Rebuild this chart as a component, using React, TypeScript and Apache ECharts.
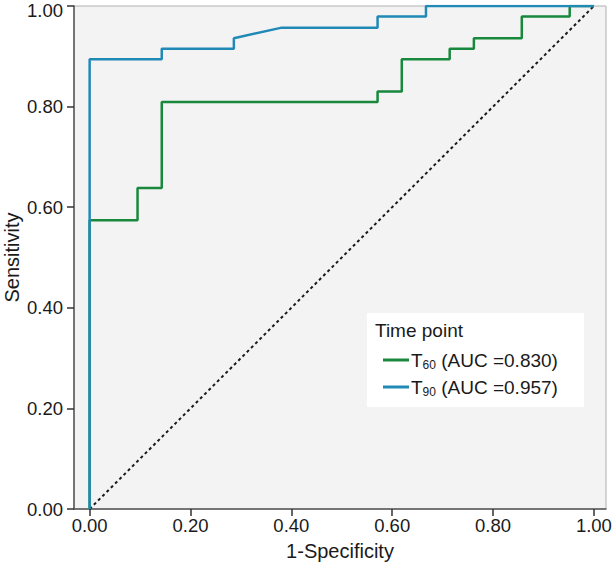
import React, { useEffect, useRef } from "react";
import * as echarts from "echarts";

const xTicks = [0, 0.2, 0.4, 0.6, 0.8, 1.0];

// T60 ROC curve (1-specificity, sensitivity)
const t60X = [0, 0, 0.095, 0.095, 0.143, 0.143, 0.571, 0.571, 0.619, 0.619, 0.714, 0.714, 0.762, 0.762, 0.857, 0.857, 0.952, 0.952, 1.0];
const t60Y = [0, 0.574, 0.574, 0.638, 0.638, 0.809, 0.809, 0.830, 0.830, 0.894, 0.894, 0.915, 0.915, 0.936, 0.936, 0.979, 0.979, 1.0, 1.0];

// T90 ROC curve
const t90X = [0, 0, 0.143, 0.143, 0.286, 0.286, 0.381, 0.571, 0.571, 0.667, 0.667, 1.0];
const t90Y = [0, 0.894, 0.894, 0.915, 0.915, 0.936, 0.957, 0.957, 0.979, 0.979, 1.0, 1.0];

const refX = [0, 1];
const refY = [0, 1];

const legendTitle = "Time point";
const legendItems = [
  { sub: "60", auc: "0.830", color: "#18883c" },
  { sub: "90", auc: "0.957", color: "#2189b6" },
];

const FONT = "Liberation Sans, Arial, Helvetica, sans-serif";

export default function App() {
  const ref = useRef<HTMLDivElement>(null);
  useEffect(() => {
    if (!ref.current) return;
    const chart = echarts.init(ref.current, null, { renderer: "svg" });
    const pairs = (xs: number[], ys: number[]) => xs.map((x, i) => [x, ys[i]]);
    const legendGraphics: any[] = [
      {
        type: "rect",
        shape: { x: 367, y: 313, width: 217, height: 94 },
        style: { fill: "#ffffff" },
        z: 10,
      },
      {
        type: "text",
        x: 375,
        y: 330,
        style: { text: legendTitle, font: `19px ${FONT}`, fill: "#1a1a1a", verticalAlign: "middle" },
        z: 11,
      },
    ];
    legendItems.forEach((it, i) => {
      const cy = 360 + i * 27;
      legendGraphics.push({
        type: "line",
        shape: { x1: 383, y1: cy, x2: 409, y2: cy },
        style: { stroke: it.color, lineWidth: 3 },
        z: 11,
      });
      legendGraphics.push({
        type: "text",
        x: 411,
        y: cy,
        style: {
          text: `T{sub|${it.sub}} (AUC =${it.auc})`,
          font: `19px ${FONT}`,
          fill: "#1a1a1a",
          verticalAlign: "middle",
          rich: {
            sub: { fontSize: 12, fontFamily: FONT, fill: "#1a1a1a", padding: [10, 0, 0, 0] },
          },
        },
        z: 11,
      });
    });

    chart.setOption({
      animation: false,
      backgroundColor: "#ffffff",
      grid: {
        left: 74,
        right: 7,
        top: 6,
        bottom: 56,
        containLabel: false,
        outerBoundsMode: "none",
        show: true,
        backgroundColor: "#f3f3f3",
        borderColor: "#b0b0b0",
        borderWidth: 1,
      },
      xAxis: {
        type: "value",
        min: -0.031,
        max: 1.024,
        name: "1-Specificity",
        nameLocation: "middle",
        nameGap: 32,
        nameMoveOverlap: false,
        nameTextStyle: { fontSize: 20, fontFamily: FONT, color: "#1a1a1a" },
        axisLine: { show: true, onZero: false, lineStyle: { color: "#555", width: 1.5 } },
        axisTick: { show: true, customValues: xTicks, length: 7, lineStyle: { color: "#333", width: 1.5 } },
        axisLabel: {
          customValues: xTicks,
          formatter: (v: number) => v.toFixed(2),
          fontSize: 18.5,
          fontFamily: FONT,
          color: "#1a1a1a",
          margin: 7,
        },
        splitLine: { show: false },
      },
      yAxis: {
        type: "value",
        min: 0,
        max: 1,
        interval: 0.2,
        name: "Sensitivity",
        nameLocation: "middle",
        nameGap: 52,
        nameMoveOverlap: false,
        nameTextStyle: { fontSize: 20, fontFamily: FONT, color: "#1a1a1a" },
        axisLine: { show: true, onZero: false, lineStyle: { color: "#555", width: 1.5 } },
        axisTick: { show: true, length: 7, lineStyle: { color: "#333", width: 1.5 } },
        axisLabel: {
          formatter: (v: number) => (v >= 0.999 ? "{t|" + v.toFixed(2) + "}" : v.toFixed(2)),
          fontSize: 18.5,
          fontFamily: FONT,
          color: "#1a1a1a",
          margin: 11,
          rich: {
            t: { fontSize: 18.5, fontFamily: FONT, color: "#1a1a1a", padding: [8, 0, 0, 0] },
          },
        },
        splitLine: { show: false },
      },
      series: [
        {
          type: "line",
          data: pairs(refX, refY),
          showSymbol: false,
          lineStyle: { color: "#1a1a1a", width: 2, type: [3, 3] },
          z: 2,
        },
        {
          type: "line",
          name: "T60",
          data: pairs(t60X, t60Y),
          showSymbol: false,
          lineStyle: { color: legendItems[0].color, width: 2.5 },
          z: 3,
        },
        {
          type: "line",
          name: "T90",
          data: pairs(t90X, t90Y),
          showSymbol: false,
          lineStyle: { color: legendItems[1].color, width: 2.5 },
          z: 4,
        },
      ],
      graphic: legendGraphics,
    });
    return () => chart.dispose();
  }, []);
  return <div ref={ref} style={{ width: 613, height: 565, position: "absolute", left: 0, top: 0 }} />;
}
